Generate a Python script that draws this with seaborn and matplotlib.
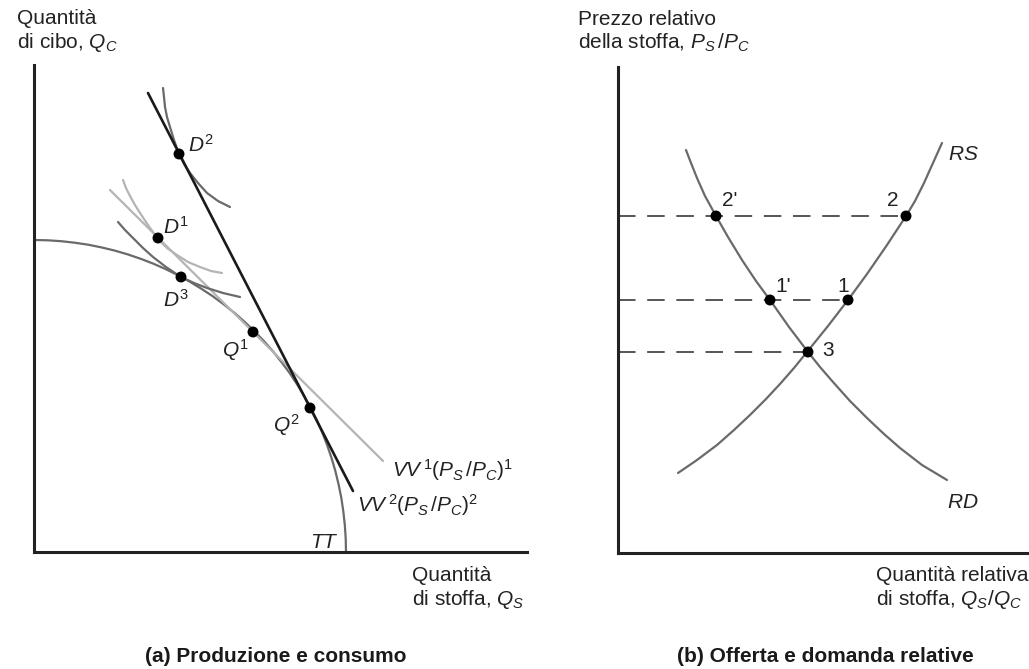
import matplotlib
matplotlib.use("Agg")
import matplotlib.pyplot as plt
import seaborn as sns

# --- Panel (a): production and consumption (units: px from the origin) ---
tt_x = [312.0, 311.7, 310.8, 309.3, 307.3, 304.6, 301.4, 297.6, 293.2, 288.3,
        282.8, 276.7, 270.2, 263.1, 255.6, 247.5, 239.0, 230.0, 220.6, 210.8,
        200.6, 189.9, 179.0, 167.6, 156.0, 144.1, 131.9, 119.4, 106.7, 93.8,
        80.8, 67.5, 54.2, 40.7, 27.2, 13.6, 0.0]
tt_y = [0.0, 13.6, 27.2, 40.7, 54.2, 67.5, 80.8, 93.8, 106.7, 119.4,
        131.9, 144.1, 156.0, 167.6, 179.0, 189.9, 200.6, 210.8, 220.6, 230.0,
        239.0, 247.5, 255.6, 263.1, 270.2, 276.7, 282.8, 288.3, 293.2, 297.6,
        301.4, 304.6, 307.3, 309.3, 310.8, 311.7, 312.0]

vv1_x = [76, 349]
vv1_y = [362, 91]
vv2_x = [114, 319]
vv2_y = [459, 61]

ic2_x = [129, 130, 131, 133, 136, 140, 145, 150, 156, 164, 173, 184, 196]
ic2_y = [464, 455, 445, 435, 425, 412, 398, 388, 379, 369, 359, 351, 345]
ic1_x = [89, 92, 96, 101, 106, 114, 124, 133, 143, 154, 166, 177, 188]
ic1_y = [372, 364, 356, 347, 339, 327, 313, 304, 297, 290, 285, 281, 279]
ic3_x = [84, 91, 99, 109, 119, 132, 147, 160, 173, 189, 206]
ic3_y = [330, 322, 314, 304, 295, 285, 275, 269, 264, 259, 255]

pts_a_x = [145, 124, 147, 219, 276]
pts_a_y = [398, 314, 275, 220, 144]

# --- Panel (b): relative supply and demand ---
rd_x = [68, 73, 79, 87, 98, 110, 124, 138, 152, 171, 190, 202, 215, 232, 249,
        266, 282, 304, 329]
rd_y = [403, 390, 375, 357, 337, 316, 293, 272, 253, 226, 201, 186, 171, 152, 135,
        119, 105, 88, 73]
rs_x = [60, 79, 99, 116, 132, 148, 162, 176, 189, 210, 230, 249, 269, 288,
        297, 306, 315, 324]
rs_y = [80, 93, 108, 123, 138, 154, 169, 185, 201, 227, 253, 279, 308, 337,
        352, 370, 390, 410]

pts_b_x = [98, 288, 152, 230, 190]
pts_b_y = [337, 337, 253, 253, 201]
pts_b_labels = ["2'", "2", "1'", "1", "3"]

W, H = 1029, 669

sns.set_theme(style="white")
plt.rcParams["font.family"] = ["Liberation Sans", "DejaVu Sans"]
plt.rcParams["mathtext.fontset"] = "custom"
plt.rcParams["mathtext.rm"] = "Liberation Sans"
plt.rcParams["mathtext.it"] = "Liberation Sans:italic"
plt.rcParams["mathtext.bf"] = "Liberation Sans:bold"
plt.rcParams["lines.solid_joinstyle"] = "round"

DARK = "#6a6a6a"
LIGHT = "#b4b4b4"
INK = "#222222"
FS = 15


def curve(ax, x, y, color, lw=1.6, z=2):
    sns.lineplot(x=x, y=y, sort=False, estimator=None, color=color,
                 linewidth=lw, ax=ax, zorder=z, legend=False)


def style_axes(ax, xmax, ymax):
    ax.set_xlim(0, xmax)
    ax.set_ylim(0, ymax)
    ax.set_xticks([])
    ax.set_yticks([])
    ax.set_xlabel("")
    ax.set_ylabel("")
    sns.despine(ax=ax)
    for s in ["left", "bottom"]:
        ax.spines[s].set_linewidth(2.2)
        ax.spines[s].set_color(INK)
    ax.patch.set_alpha(0)


fig = plt.figure(figsize=(W / 100, H / 100), dpi=100)

# ---------------- panel (a) ----------------
ax1 = fig.add_axes([34 / W, 117 / H, 493 / W, 487 / H])
curve(ax1, tt_x, tt_y, DARK)
curve(ax1, ic1_x, ic1_y, LIGHT)
curve(ax1, vv1_x, vv1_y, LIGHT)
curve(ax1, ic3_x, ic3_y, DARK)
curve(ax1, ic2_x, ic2_y, DARK)
curve(ax1, vv2_x, vv2_y, "#1a1a1a", 1.9, z=3)
sns.scatterplot(x=pts_a_x, y=pts_a_y, color="black", s=62, edgecolor="none",
                ax=ax1, zorder=5, legend=False)
style_axes(ax1, 493, 487)

lab_a = [("$D^2$", 154, 407), ("$D^1$", 129, 325), ("$D^3$", 129, 252),
         ("$Q^1$", 188, 202), ("$Q^2$", 239, 127),
         (r"$VV^{\,1}(P_S\,/P_C)^1$", 358, 82),
         (r"$VV^{\,2}(P_S\,/P_C)^2$", 323, 47), ("$TT$", 276, 10)]
for t, x, y in lab_a:
    ax1.text(x, y, t, fontsize=FS, ha="left", va="center", color=INK)

# ---------------- panel (b) ----------------
ax2 = fig.add_axes([618 / W, 116 / H, 411 / W, 486 / H])
level_x = [pts_b_x[1], pts_b_x[3], pts_b_x[4]]
level_y = [pts_b_y[1], pts_b_y[3], pts_b_y[4]]
ax2.hlines(level_y, 0, level_x, colors="#555555", linewidth=1.4,
           linestyles=[(0, (9, 6))], zorder=1)
curve(ax2, rd_x, rd_y, DARK)
curve(ax2, rs_x, rs_y, DARK)
sns.scatterplot(x=pts_b_x, y=pts_b_y, color="black", s=62, edgecolor="none",
                ax=ax2, zorder=5, legend=False)
style_axes(ax2, 411, 486)

lab_b_pos = [(104, 352), (269, 352), (157, 267), (219, 267), (204, 202)]
for t, (x, y) in zip(pts_b_labels, lab_b_pos):
    ax2.text(x, y, t, fontsize=FS, ha="left", va="center", color=INK)
ax2.text(330, 399, "$RS$", fontsize=FS, ha="left", va="center", color=INK)
ax2.text(329, 51, "$RD$", fontsize=FS, ha="left", va="center", color=INK)


# ---------------- axis titles and captions ----------------
def ftext(x, y, s, **kw):
    fig.text(x / W, 1 - y / H, s, fontsize=FS, color=INK,
             linespacing=1.15, **kw)


ftext(17, 9, "Quantità\ndi cibo, $Q_C$", ha="left", va="top")
ftext(412, 566, "Quantità\ndi stoffa, $Q_S$", ha="left", va="top")
ftext(578, 10, "Prezzo relativo\ndella stoffa, $P_S\\,/P_C$", ha="left", va="top")
ftext(876, 566, "Quantità relativa\ndi stoffa, $Q_S/Q_C$", ha="left", va="top")

fig.text(145 / W, 1 - 657 / H, "(a) Produzione e consumo", fontsize=FS,
         fontweight="bold", ha="left", va="center", color="#1a1a1a")
fig.text(677 / W, 1 - 657 / H, "(b) Offerta e domanda relative", fontsize=FS,
         fontweight="bold", ha="left", va="center", color="#1a1a1a")

fig.savefig("out.png", dpi=100)
